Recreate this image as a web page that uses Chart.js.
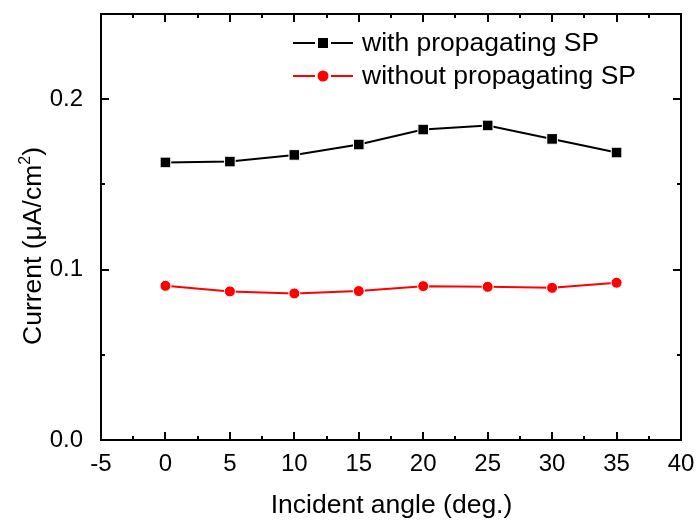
<!DOCTYPE html>
<html>
<head>
<meta charset="utf-8">
<script src="https://cdn.jsdelivr.net/npm/chart.js@4/dist/chart.umd.min.js"></script>
<style>
  html, body { margin:0; padding:0; background:#fff; }
  #wrap { width:698px; height:520px; position:relative; }
</style>
</head>
<body>
<div id="wrap"><canvas id="c" width="698" height="520"></canvas></div>
<script>
const angles = [0, 5, 10, 15, 20, 25, 30, 35];
const withSP = [0.1629, 0.1634, 0.1673, 0.1734, 0.1822, 0.1846, 0.1767, 0.1687];
const withoutSP = [0.0905, 0.0872, 0.0860, 0.0874, 0.0903, 0.0899, 0.0893, 0.0923];
const seriesNames = ["with propagating SP", "without propagating SP"];
const xTicks = [-5, 0, 5, 10, 15, 20, 25, 30, 35, 40];
const yTicks = [0.0, 0.1, 0.2];
const xTitle = "Incident angle (deg.)";
const yTitle = ["Current (\u03bcA/cm", "2", ")"];

const FONT = "'Liberation Sans', Arial, sans-serif";

const toPts = vals => angles.map((a, i) => ({ x: a, y: vals[i] }));

// frame, inward ticks on all four sides, legend and axis titles
const frame = {
  id: "frame",
  afterDraw(chart){
    const { ctx, chartArea: a, scales: { x, y } } = chart;
    ctx.save();
    ctx.strokeStyle = "#000";
    ctx.lineWidth = 2;
    ctx.strokeRect(a.left, a.top, a.right - a.left, a.bottom - a.top);
    ctx.beginPath();
    for (let v = -5; v <= 40; v += 2.5){
      const px = Math.round(x.getPixelForValue(v));
      const len = (v % 5 === 0) ? 8 : 4;
      ctx.moveTo(px, a.bottom); ctx.lineTo(px, a.bottom - len);
      ctx.moveTo(px, a.top);    ctx.lineTo(px, a.top + len);
    }
    for (let v = 0; v <= 0.2501; v += 0.05){
      const py = Math.round(y.getPixelForValue(v));
      const major = Math.abs(v * 10 - Math.round(v * 10)) < 1e-6;
      const len = major ? 8 : 4;
      ctx.moveTo(a.left, py);  ctx.lineTo(a.left + len, py);
      ctx.moveTo(a.right, py); ctx.lineTo(a.right - len, py);
    }
    ctx.stroke();

    // legend: line - marker - line, then label
    chart.data.datasets.forEach((ds, i) => {
      const cy = a.top + 29 + i * 33;
      const x0 = 293, x1 = 353, mx = 323;
      ctx.strokeStyle = ds.borderColor;
      ctx.lineWidth = 2;
      ctx.beginPath();
      ctx.moveTo(x0, cy); ctx.lineTo(mx - 8, cy);
      ctx.moveTo(mx + 8, cy); ctx.lineTo(x1, cy);
      ctx.stroke();
      ctx.fillStyle = ds.pointBackgroundColor;
      if (ds.pointStyle === "rect"){
        ctx.fillRect(mx - 5, cy - 5, 10, 10);
      } else {
        ctx.beginPath(); ctx.arc(mx, cy, 5.5, 0, Math.PI * 2); ctx.fill();
      }
      ctx.fillStyle = "#000";
      ctx.font = `26.5px ${FONT}`;
      ctx.textBaseline = "middle";
      ctx.textAlign = "left";
      ctx.fillText(ds.label, 362, cy + 1);
    });

    // x title
    ctx.fillStyle = "#000";
    ctx.font = `26.5px ${FONT}`;
    ctx.textAlign = "center";
    ctx.textBaseline = "alphabetic";
    ctx.fillText(xTitle, (a.left + a.right) / 2 + 0.5, 513);

    // y title with superscript
    ctx.translate(41, 246);
    ctx.rotate(-Math.PI / 2);
    const big = `26.5px ${FONT}`, small = `16px ${FONT}`;
    ctx.font = big;   const w0 = ctx.measureText(yTitle[0]).width;
    ctx.font = small; const w1 = ctx.measureText(yTitle[1]).width;
    ctx.font = big;   const w2 = ctx.measureText(yTitle[2]).width;
    let sx = -(w0 + w1 + w2) / 2;
    ctx.textAlign = "left";
    ctx.fillText(yTitle[0], sx, 0);
    ctx.font = small;
    ctx.fillText(yTitle[1], sx + w0, -11);
    ctx.font = big;
    ctx.fillText(yTitle[2], sx + w0 + w1, 0);
    ctx.restore();
  }
};

new Chart(document.getElementById("c"), {
  type: "line",
  data: {
    datasets: [
      { label: seriesNames[0], data: toPts(withSP), borderColor: "#000", backgroundColor: "#000",
        pointBackgroundColor: "#000", pointBorderColor: "#fff", pointBorderWidth: 1,
        pointStyle: "rect", pointRadius: 7.5, borderWidth: 2, tension: 0 },
      { label: seriesNames[1], data: toPts(withoutSP), borderColor: "#ff0000", backgroundColor: "#ff0000",
        pointBackgroundColor: "#ff0000", pointBorderColor: "#fff", pointBorderWidth: 1,
        pointStyle: "circle", pointRadius: 5.5, borderWidth: 2, tension: 0 }
    ]
  },
  options: {
    responsive: false,
    animation: false,
    layout: { padding: { top: 14, right: 17, left: 0, bottom: 0 } },
    plugins: { legend: { display: false }, tooltip: { enabled: false } },
    scales: {
      x: {
        type: "linear", min: -5, max: 40,
        afterBuildTicks: s => { s.ticks = xTicks.map(v => ({ value: v })); },
        afterFit: s => { s.height = 80; s.paddingLeft = 0; s.paddingRight = 0; },
        grid: { display: false },
        border: { display: false },
        ticks: { color: "#000", font: { family: FONT, size: 24 }, padding: 2, maxRotation: 0 }
      },
      y: {
        min: 0, max: 0.25,
        afterBuildTicks: s => { s.ticks = yTicks.map(v => ({ value: v })); },
        afterFit: s => { s.width = 101; s.paddingTop = 0; s.paddingBottom = 0; },
        grid: { display: false },
        border: { display: false },
        ticks: { color: "#000", font: { family: FONT, size: 24 }, padding: 10,
                 callback: v => Number(v).toFixed(1) }
      }
    }
  },
  plugins: [frame]
});
</script>
</body>
</html>
